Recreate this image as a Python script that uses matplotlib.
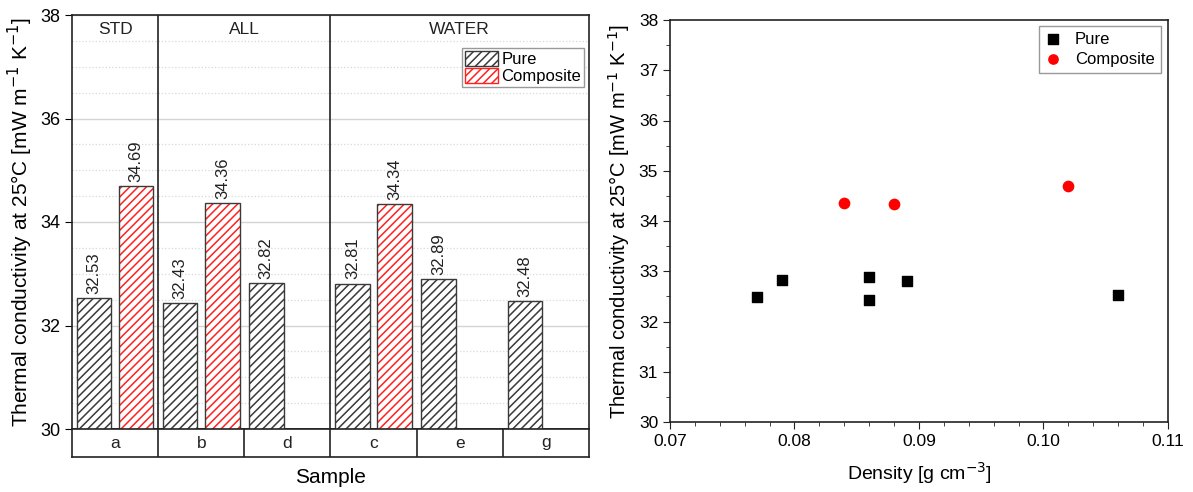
import numpy as np
import matplotlib
matplotlib.use("Agg")
from matplotlib import pyplot as plt
from matplotlib.patches import Patch

plt.rcParams['font.family'] = ['Liberation Sans', 'DejaVu Sans']
plt.rcParams['hatch.linewidth'] = 1.1

# bar chart data
samples = ['a', 'b', 'd', 'c', 'e', 'g']
groups = ['STD', 'ALL', 'WATER']
group_slots = [(0, 0), (1, 2), (3, 5)]
pure = [32.53, 32.43, 32.82, 32.81, 32.89, 32.48]
composite = [34.69, 34.36, None, 34.34, None, None]

# scatter data
pure_density = [0.106, 0.086, 0.079, 0.089, 0.086, 0.077]
comp_density = [0.102, 0.084, 0.088]
comp_values = [34.69, 34.36, 34.34]

W, H = 1193, 492
fig = plt.figure(figsize=(W / 100, H / 100), dpi=100)

def box(l, t, r, b):
  return [l / W, 1 - b / H, (r - l) / W, (b - t) / H]

# ---- left: bars ----
ax = fig.add_axes(box(72, 15, 589, 429))
x = np.arange(len(samples))
bw = 0.4
off = 0.245

ax.bar(x - off, pure, bw, bottom=0, color='white', edgecolor='#3a3a3a',
       hatch='////', linewidth=1.0, zorder=3)
cx = [xi + off for xi, c in zip(x, composite) if c is not None]
cv = [c for c in composite if c is not None]
ax.bar(cx, cv, bw, color='white', edgecolor='#ff2020', hatch='////',
       linewidth=0, zorder=3)
ax.bar(cx, cv, bw, fill=False, edgecolor='#3a3a3a', linewidth=1.0, zorder=4)

for xi, v in zip(x, pure):
  ax.text(xi - off, v + 0.08, f'{v:.2f}', rotation=90, ha='center',
          va='bottom', fontsize=12, color='#222222')
for xi, v in zip(cx, cv):
  ax.text(xi, v + 0.08, f'{v:.2f}', rotation=90, ha='center',
          va='bottom', fontsize=12, color='#222222')

ax.set_xlim(-0.5, len(samples) - 0.5)
ax.set_ylim(30, 38)
ax.set_yticks([30, 32, 34, 36, 38])
ax.set_yticks(np.arange(30, 38.01, 0.5), minor=True)
ax.tick_params(axis='y', which='major', direction='out', length=5,
               labelsize=13)
ax.tick_params(axis='y', which='minor', length=0)
ax.set_xticks([])
ax.grid(axis='y', which='major', color='#d4d4d4', linewidth=1.0, zorder=0)
ax.grid(axis='y', which='minor', color='#d8d8d8', linestyle=':',
        linewidth=0.9, zorder=0)
for s in ax.spines.values():
  s.set_linewidth(1.2)
  s.set_color('#222222')

for (s0, s1), name in zip(group_slots, groups):
  if s0 > 0:
    ax.axvline(s0 - 0.5, color='#222222', linewidth=1.2, zorder=5)
  ax.text((s0 + s1) / 2, 37.72, name, ha='center', va='center',
          fontsize=12.5, color='#222222')

ax.set_ylabel('Thermal conductivity at 25°C [mW m$^{-1}$ K$^{-1}$]',
              fontsize=15, labelpad=4)

leg_handles = [Patch(facecolor='white', edgecolor='#3a3a3a', hatch='////'),
               Patch(facecolor='white', edgecolor='#ff2020', hatch='////')]
ax.legend(leg_handles, ['Pure', 'Composite'], loc='upper right',
          bbox_to_anchor=(0.99, 0.92), fontsize=12, fancybox=False,
          edgecolor='#999999', framealpha=1, handlelength=2.0,
          handleheight=1.05, borderpad=0.15, labelspacing=0.05,
          handletextpad=0.2, borderaxespad=0.0)

# category row
axc = fig.add_axes(box(72, 429, 589, 457))
axc.set_xlim(-0.5, len(samples) - 0.5)
axc.set_ylim(0, 1)
axc.set_xticks([])
axc.set_yticks([])
for xi, s in zip(x, samples):
  axc.text(xi, 0.5, s, ha='center', va='center', fontsize=12.5,
           color='#222222')
  if xi > 0:
    axc.axvline(xi - 0.5, color='#222222', linewidth=1.2)
for s in axc.spines.values():
  s.set_linewidth(1.2)
  s.set_color('#222222')
axc.set_xlabel('Sample', fontsize=15, labelpad=8)

# ---- right: scatter ----
ax2 = fig.add_axes(box(670, 20, 1168, 422))
ax2.scatter(pure_density, pure, marker='s', s=55, color='black',
            label='Pure', zorder=3)
ax2.scatter(comp_density, comp_values, marker='o', s=55, color='#ff0000',
            label='Composite', zorder=3)
ax2.set_xlim(0.07, 0.11)
ax2.set_ylim(30, 38)
ax2.set_xticks([0.07, 0.08, 0.09, 0.10, 0.11])
ax2.set_xticklabels(['0.07', '0.08', '0.09', '0.10', '0.11'])
ax2.set_xticks(np.arange(0.07, 0.1101, 0.002), minor=True)
ax2.set_yticks(np.arange(30, 38.01, 1))
ax2.set_yticks(np.arange(30, 38.01, 0.5), minor=True)
ax2.tick_params(which='major', direction='out', length=5, labelsize=12.5,
                color='#222222')
ax2.tick_params(which='minor', direction='out', length=3, color='#222222')
for s in ax2.spines.values():
  s.set_linewidth(1.2)
  s.set_color('#222222')
ax2.set_xlabel('Density [g cm$^{-3}$]', fontsize=14, labelpad=8)
ax2.set_ylabel('Thermal conductivity at 25°C [mW m$^{-1}$ K$^{-1}$]',
               fontsize=14.5, labelpad=5)
ax2.legend(loc='upper right', bbox_to_anchor=(0.985, 0.985), fontsize=12,
           fancybox=False, edgecolor='#999999', framealpha=1,
           handlelength=1.0, handletextpad=0.8, borderpad=0.35,
           labelspacing=0.3, borderaxespad=0.0, markerscale=0.9)

fig.savefig('out.png', dpi=100)
